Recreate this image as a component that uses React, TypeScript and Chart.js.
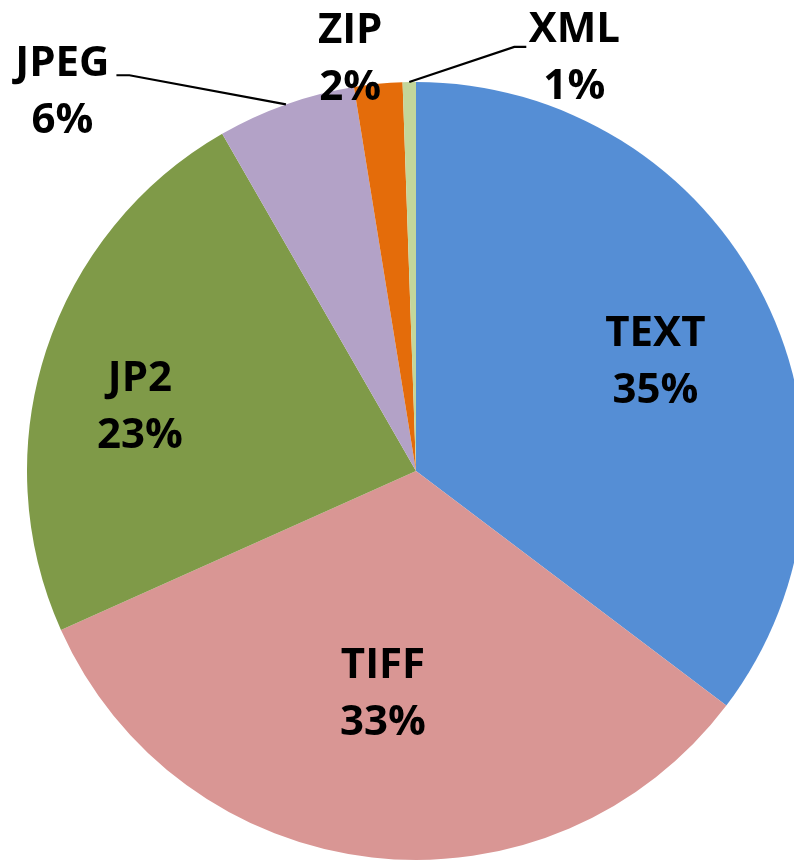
import React, { useEffect, useRef } from "react";
import { Chart, registerables } from "chart.js";

Chart.register(...registerables);

const categories = ["TEXT", "TIFF", "JP2", "JPEG", "ZIP", "XML"];
const shares = [35.3, 33.0, 23.4, 5.75, 2.0, 0.55];
const percentLabels = ["35%", "33%", "23%", "6%", "2%", "1%"];
const colors = ["#558ED5", "#D99694", "#7F9A48", "#B3A2C7", "#E46C0A", "#C3D69B"];

// label placement: radial fraction of radius, angle offset (deg) from slice mid-angle
const placement = [
  { f: 0.676, d: 2.0, leader: null },
  { f: 0.582, d: 1.9, leader: null },
  { f: 0.728, d: -5.1, leader: null },
  { f: 1.332, d: -23.5, leader: { ex: 67, ey: -17, hx: 54 } },
  { f: 1.072, d: -3.5, leader: null },
  { f: 1.135, d: 22, leader: { ex: -60, ey: -12, hx: -48 } },
];

const FONT = 'bold 42px "Open Sans", "DejaVu Sans", sans-serif';
const LINE_GAP = 57;

const labelPlugin = {
  id: "pieLabels",
  afterDatasetsDraw(chart: any) {
    const ctx = chart.ctx;
    const meta = chart.getDatasetMeta(0);
    ctx.save();
    meta.data.forEach((arc: any, i: number) => {
      const p = arc.getProps(["x", "y", "startAngle", "endAngle", "outerRadius"], true);
      const mid = (p.startAngle + p.endAngle) / 2;
      const pl = placement[i];
      const a = mid + (pl.d * Math.PI) / 180;
      const lx = p.x + Math.cos(a) * p.outerRadius * pl.f;
      const ly = p.y + Math.sin(a) * p.outerRadius * pl.f;
      if (pl.leader) {
        const sx = p.x + Math.cos(mid) * p.outerRadius;
        const sy = p.y + Math.sin(mid) * p.outerRadius;
        ctx.beginPath();
        ctx.strokeStyle = "#000";
        ctx.lineWidth = 2.2;
        ctx.moveTo(sx, sy);
        ctx.lineTo(lx + pl.leader.ex, ly + pl.leader.ey);
        ctx.lineTo(lx + pl.leader.hx, ly + pl.leader.ey);
        ctx.stroke();
      }
      ctx.fillStyle = "#000";
      ctx.font = FONT;
      ctx.textAlign = "center";
      ctx.textBaseline = "middle";
      ctx.fillText(categories[i], lx, ly - LINE_GAP / 2);
      ctx.fillText(percentLabels[i], lx, ly + LINE_GAP / 2);
    });
    ctx.restore();
  },
};

export default function App() {
  const ref = useRef<HTMLCanvasElement>(null);
  useEffect(() => {
    if (!ref.current) return;
    const chart = new Chart(ref.current, {
      type: "pie",
      data: {
        labels: categories,
        datasets: [
          {
            data: shares,
            backgroundColor: colors,
            borderWidth: 0,
          },
        ],
      },
      options: {
        responsive: false,
        animation: false,
        devicePixelRatio: 1,
        layout: { padding: { top: 82, bottom: 2, left: 0, right: 0 } },
        plugins: {
          legend: { display: false },
          tooltip: { enabled: false },
        },
      },
      plugins: [labelPlugin],
    });
    return () => chart.destroy();
  }, []);
  return (
    <div
      style={{
        position: "fixed",
        left: 0,
        top: 0,
        width: 794,
        height: 862,
        overflow: "hidden",
        background: "#fff",
      }}
    >
      <canvas ref={ref} width={832} height={862} style={{ display: "block" }} />
    </div>
  );
}
